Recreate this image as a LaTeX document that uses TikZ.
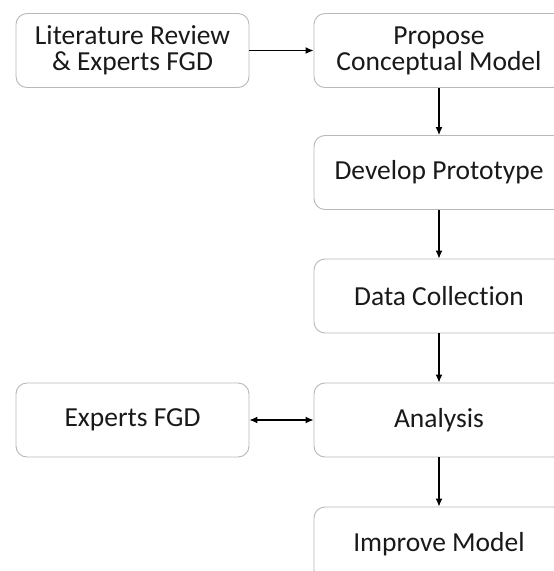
\documentclass[tikz,border=0pt]{standalone}
\usepackage{fontspec}
\setmainfont{Carlito}[Ligatures=NoCommon]
\usetikzlibrary{arrows.meta}
\begin{document}
\begin{tikzpicture}[x=1pt,y=-1pt,
  box/.style={draw=black!28, line width=0.9pt, rounded corners=11pt, align=center,
    font=\fontsize{27.5}{26}\selectfont, text=black!90, inner sep=0pt},
  lbox/.style={box, minimum width=233pt, minimum height=74pt},
  rbox/.style={box, minimum width=250pt, minimum height=74pt},
  conn/.style={line width=1.2pt, -{Latex[length=8pt,width=7pt]}},
  bconn/.style={line width=1.2pt, {Latex[length=8pt,width=7pt]}-{Latex[length=8pt,width=7pt]}}]
\useasboundingbox (0,0) rectangle (554,571);
\clip (0,0) rectangle (554,571);
\node[lbox] (lit) at (132.5,50.5) {Literature Review\\\& Experts FGD};
\node[rbox] (prop) at (439,50.5) {Propose\\Conceptual Model};
\node[rbox] (dev) at (439,172.5) {Develop Prototype};
\node[rbox] (data) at (439,296) {Data Collection};
\node[lbox] (fgd) at (132.5,420) {Experts FGD};
\node[rbox] (ana) at (439,420) {Analysis};
\node[rbox] (imp) at (439,544) {Improve Model};
\draw[conn] (lit) -- (prop);
\draw[conn] (prop) -- (dev);
\draw[conn] (dev) -- (data);
\draw[conn] (data) -- (ana);
\draw[bconn] (fgd) -- (ana);
\draw[conn] (ana) -- (imp);
\end{tikzpicture}
\end{document}
